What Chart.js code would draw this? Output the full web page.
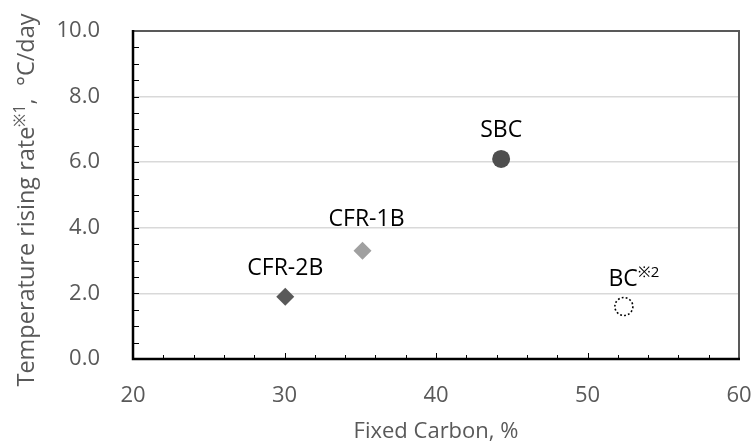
<!DOCTYPE html>
<html>
<head>
<meta charset="utf-8">
<script src="https://cdn.jsdelivr.net/npm/chart.js@4.4.0/dist/chart.umd.min.js"></script>
<style>
  html, body { margin: 0; padding: 0; background: #fff; }
  #wrap { width: 755px; height: 446px; }
</style>
</head>
<body>
<div id="wrap"><canvas id="chart"></canvas></div>
<script>
// samples and measured values
const samples = ["CFR-2B", "CFR-1B", "SBC", "BC"];
const fixedCarbon = [30.05, 35.15, 44.3, 52.4];
const risingRate = [1.9, 3.3, 6.1, 1.6];
const xTicks = [20, 30, 40, 50, 60];
const yTicks = [0, 2, 4, 6, 8, 10];

const FONT = "'Open Sans', sans-serif";
const GREY = "#595959";

// marker look for each sample
const markers = [
  { style: "rectRot", fill: "#595959", border: "#595959", dx: 0, dy: -28 },
  { style: "rectRot", fill: "#a0a0a0", border: "#a0a0a0", dx: 4, dy: -31 },
  { style: "circle", fill: "#4f4f4f", border: "#4f4f4f", dx: 0, dy: -28 },
  { style: "circle", fill: "rgba(0,0,0,0)", border: "#000", dx: 10, dy: -27, dotted: true, note: "※2" },
];

const datasets = samples.map((name, i) => ({
  label: name,
  data: [{ x: fixedCarbon[i], y: risingRate[i] }],
  pointStyle: markers[i].style,
  pointRadius: 9,
  pointBorderWidth: markers[i].dotted ? 1.6 : 0,
  backgroundColor: markers[i].fill,
  borderColor: markers[i].border,
}));

// draw text made of normal and raised small pieces, centred on (0,0)
function richText(ctx, parts, size) {
  const small = Math.round(size * 0.66);
  let total = 0;
  parts.forEach(p => {
    ctx.font = (p.sup ? small : size) + "px " + FONT;
    p.w = ctx.measureText(p.text).width;
    total += p.w;
  });
  let x = -total / 2;
  parts.forEach(p => {
    ctx.font = (p.sup ? small : size) + "px " + FONT;
    ctx.fillText(p.text, x, p.sup ? -size * 0.3 : 0);
    x += p.w;
  });
}

// keep tick labels from pushing the plot area inwards
function noOverflow(s) {
  s.paddingLeft = 0;
  s.paddingRight = 0;
  s.paddingTop = 0;
  s.paddingBottom = 0;
}

const frame = {
  id: "frame",
  beforeDatasetsDraw(chart) {
    const { ctx, chartArea: a, scales } = chart;
    ctx.save();
    // inward tick marks
    ctx.strokeStyle = "#000";
    ctx.lineWidth = 1;
    for (let v = 22; v < 60; v += 2) {
      const px = Math.round(scales.x.getPixelForValue(v)) + 0.5;
      const len = v % 10 === 0 ? 6 : 4;
      ctx.beginPath();
      ctx.moveTo(px, a.bottom);
      ctx.lineTo(px, a.bottom - len);
      ctx.stroke();
    }
    for (let v = 0.5; v < 10; v += 0.5) {
      const py = Math.round(scales.y.getPixelForValue(v)) + 0.5;
      ctx.beginPath();
      ctx.moveTo(a.left, py);
      ctx.lineTo(a.left + 6, py);
      ctx.stroke();
    }
    // box
    ctx.lineWidth = 2;
    ctx.strokeStyle = GREY;
    ctx.beginPath();
    ctx.moveTo(a.left, a.top);
    ctx.lineTo(a.right, a.top);
    ctx.lineTo(a.right, a.bottom);
    ctx.stroke();
    ctx.lineWidth = 2.5;
    ctx.strokeStyle = "#000";
    ctx.beginPath();
    ctx.moveTo(a.left, a.top - 1);
    ctx.lineTo(a.left, a.bottom);
    ctx.lineTo(a.right + 1, a.bottom);
    ctx.stroke();

    // y axis title
    ctx.fillStyle = GREY;
    ctx.textBaseline = "middle";
    ctx.textAlign = "left";
    ctx.translate(27, 200);
    ctx.rotate(-Math.PI / 2);
    richText(ctx, [
      { text: "Temperature rising rate" },
      { text: "※1", sup: true },
      { text: ",  °C/day" },
    ], 23.5);
    ctx.restore();
  },
  beforeDatasetDraw(chart, args) {
    if (markers[args.index].dotted) {
      chart.ctx.save();
      chart.ctx.setLineDash([1.8, 2.2]);
    }
  },
  afterDatasetDraw(chart, args) {
    if (markers[args.index].dotted) chart.ctx.restore();
  },
  afterDatasetsDraw(chart) {
    const ctx = chart.ctx;
    ctx.save();
    ctx.fillStyle = "#000";
    ctx.textBaseline = "middle";
    ctx.textAlign = "left";
    samples.forEach((name, i) => {
      const pt = chart.getDatasetMeta(i).data[0];
      const m = markers[i];
      ctx.save();
      ctx.translate(pt.x + m.dx, pt.y + m.dy);
      const parts = [{ text: name }];
      if (m.note) parts.push({ text: m.note, sup: true });
      richText(ctx, parts, 23);
      ctx.restore();
    });
    ctx.restore();
  },
};

new Chart(document.querySelector("#chart"), {
  type: "scatter",
  data: { datasets },
  options: {
    responsive: true,
    maintainAspectRatio: false,
    animation: false,
    layout: { padding: { top: 31, right: 16, left: 0, bottom: 0 } },
    plugins: {
      legend: { display: false },
      tooltip: { enabled: false },
    },
    scales: {
      x: {
        type: "linear",
        min: xTicks[0],
        max: xTicks[xTicks.length - 1],
        afterBuildTicks: s => { s.ticks = xTicks.map(v => ({ value: v })); },
        ticks: { color: GREY, font: { family: FONT, size: 22 }, padding: 24 },
        grid: { display: false, drawTicks: false },
        border: { display: false },
        title: {
          display: true,
          text: "Fixed Carbon, %",
          color: GREY,
          font: { family: FONT, size: 22 },
          padding: { top: 0, bottom: 1 },
        },
        afterFit: s => { s.height = 87; noOverflow(s); },
      },
      y: {
        min: yTicks[0],
        max: yTicks[yTicks.length - 1],
        afterBuildTicks: s => { s.ticks = yTicks.map(v => ({ value: v })); },
        ticks: {
          color: GREY,
          font: { family: FONT, size: 22 },
          padding: 33,
          callback: v => v.toFixed(1),
        },
        grid: {
          drawTicks: false,
          color: c => (c.tick.value === 0 || c.tick.value === 10 ? "rgba(0,0,0,0)" : "#d9d9d9"),
          lineWidth: 1.5,
        },
        border: { display: false },
        afterFit: s => { s.width = 133; noOverflow(s); },
      },
    },
  },
  plugins: [frame],
});
</script>
</body>
</html>
